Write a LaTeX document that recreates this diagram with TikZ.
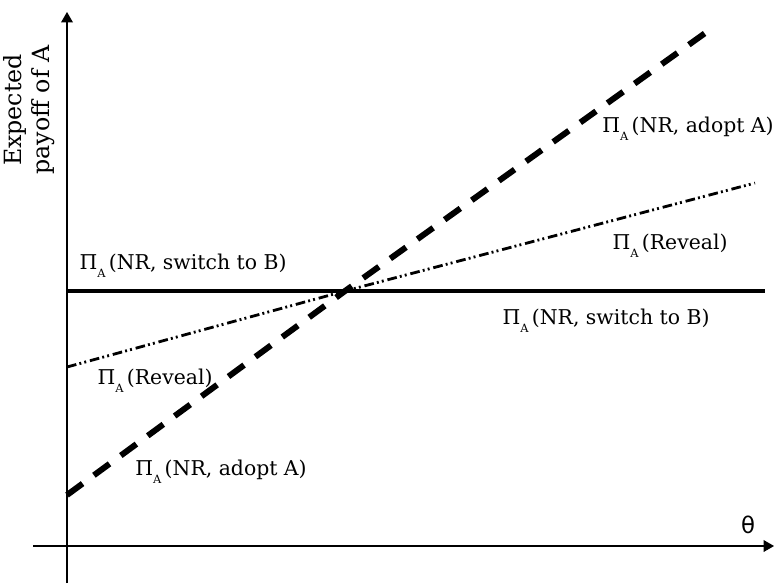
\documentclass[tikz,border=0pt]{standalone}
\usepackage{fontspec}
\setmainfont{DejaVu Serif}
\newfontfamily\thetafont{DejaVu Sans}
\usetikzlibrary{arrows,positioning,calc}

% payoff label: Pi with a low subscript A
\newcommand{\payA}[1]{Π\raisebox{-0.75ex}{\fontsize{6.5}{7}\selectfont A}\,(#1)}

\begin{document}
\begin{tikzpicture}[%
    >=triangle 60,              % long thin axis tips
    x=0.02cm, y=-0.02cm,        % one unit = one pixel of the sketch
    font=\fontsize{11.6}{14}\selectfont
    ]

\tikzset{
    axis/.style={->, line width=0.6pt},
    lbl/.style={inner sep=0pt, anchor=center},
    % payoff lines
    flat/.style={line width=1.8pt},
    adopt/.style={line width=3.4pt, dash pattern=on 11pt off 8pt},
    reveal/.style={line width=1.6pt, dash pattern=on 5.5pt off 1.8pt on 1.1pt off 1.8pt on 1.1pt off 2.2pt}
}

\useasboundingbox (0,0) rectangle (774,583);

%% Axes
\coordinate (ybot) at (67,583);
\coordinate (ytop) at (67,12);
\coordinate (xleft) at (33,546);
\coordinate (xright) at (774,546);
    \draw [axis] (ybot) -- (ytop);
    \draw [axis] (xleft) -- (xright);
\node [lbl, font=\fontsize{13}{15}\selectfont] (theta) at (748,525) {\thetafont θ};
\node [lbl, rotate=90, align=center, font=\fontsize{13.5}{16}\selectfont] (ylab) at (29,110) {Expected\\payoff of A};

%% Payoff lines
\coordinate (cross) at (345,291);
\coordinate (sw0) at (67,291);
\coordinate (sw1) at (765,291);
    \draw [flat] (sw0) -- (sw1);
\coordinate (ad0) at (67,495);
\coordinate (ad1) at (708,31);
    \draw [adopt] (ad0) -- (cross) -- (ad1);
\coordinate (rv0) at (67,367);
\coordinate (rv1) at (755,183);
    \draw [reveal] (rv0) -- (cross) -- (rv1);

%% Labels left of the crossing
\node [lbl] (swL) at (183,266) {\payA{NR, switch to B}};
\node [lbl] (rvL) at (155,381) {\payA{Reveal}};
\node [lbl] (adL) at (221,472) {\payA{NR, adopt A}};

%% Labels right of the crossing
\node [lbl] (adR) at (688,129) {\payA{NR, adopt A}};
\node [lbl] (rvR) at (670,246) {\payA{Reveal}};
\node [lbl] (swR) at (606,321) {\payA{NR, switch to B}};
\end{tikzpicture}
\end{document}
